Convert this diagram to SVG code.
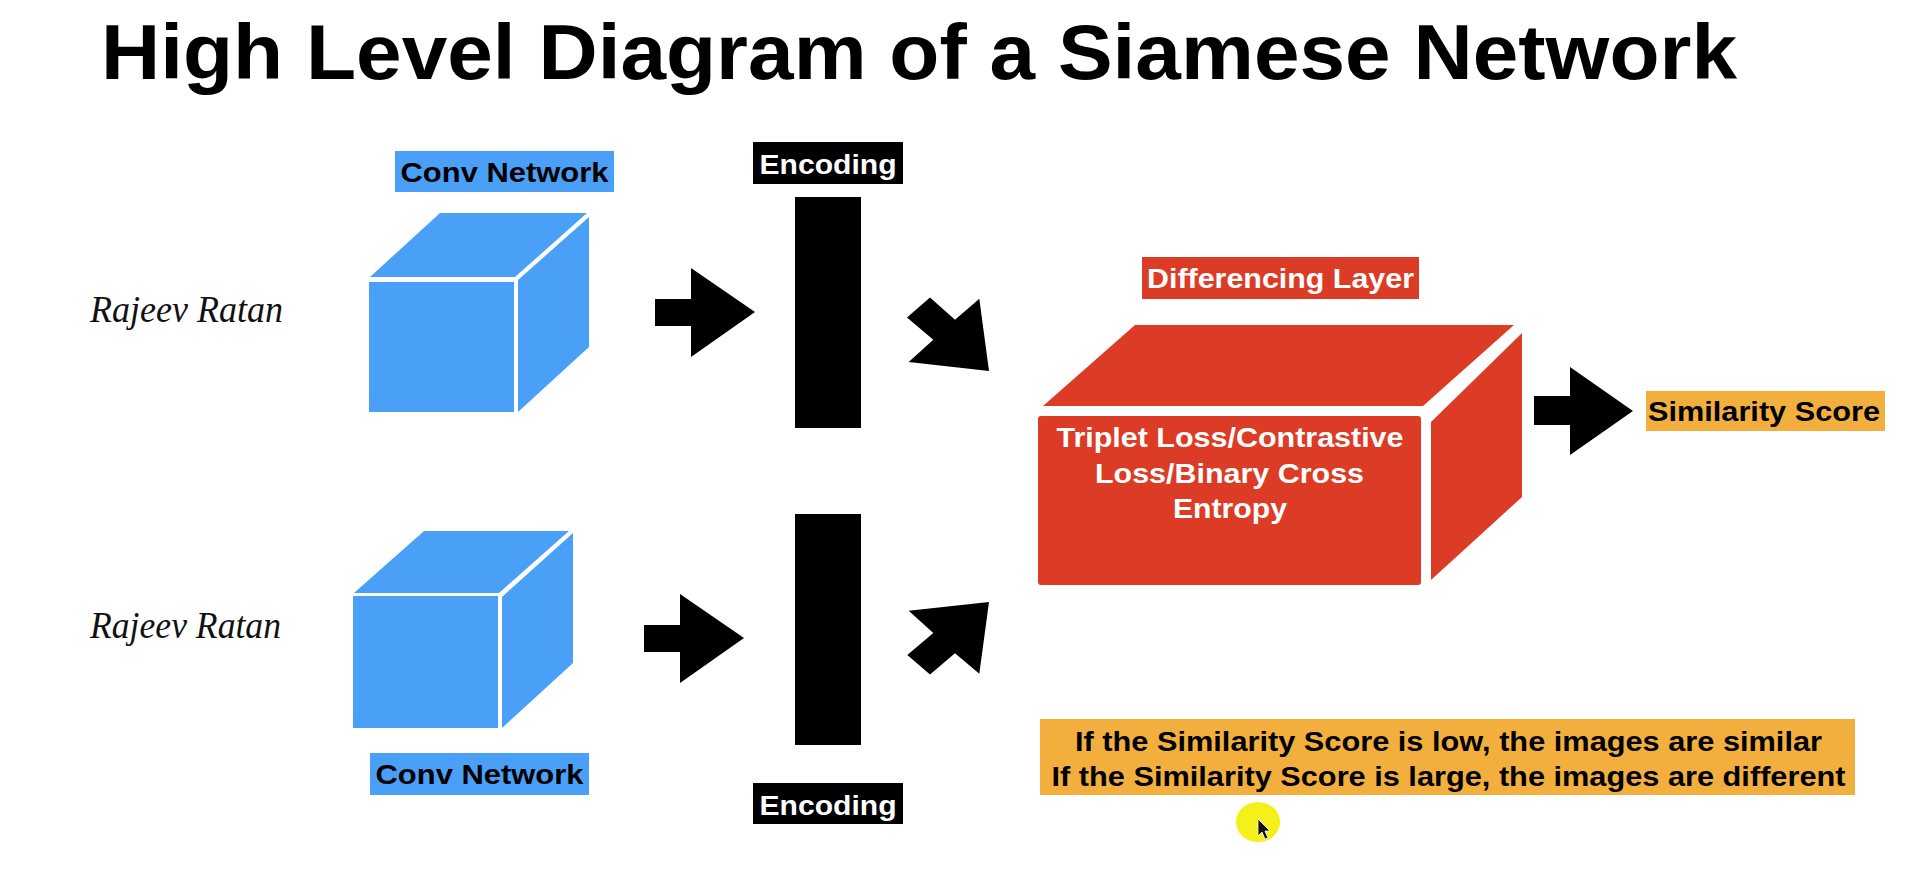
<svg xmlns="http://www.w3.org/2000/svg" width="1914" height="882" viewBox="0 0 1914 882">
<style>
.bg{fill:#ffffff}
.blue{fill:#4aa0f7}
.red{fill:#dc3c26}
.orange{fill:#f3af3d}
.black{fill:#000000}
.lbl{font-family:"Liberation Sans",Arial,sans-serif;font-weight:bold;text-anchor:middle}
.sig{font-family:"Liberation Serif","Times New Roman",serif;font-style:italic;fill:#111111}
.arrow{fill:#000000}
</style>
<rect class="bg" x="0" y="0" width="1914" height="882"/>
<g id="title">
<text x="101" y="79" font-family="Liberation Sans, Arial, sans-serif" font-weight="bold" font-size="77" textLength="1636" lengthAdjust="spacingAndGlyphs" fill="#000">High Level Diagram of a Siamese Network</text>
</g>
<g id="sig1"><text class="sig" x="90" y="322" font-size="38" textLength="193" lengthAdjust="spacingAndGlyphs">Rajeev Ratan</text></g>
<g id="sig2"><text class="sig" x="90" y="638" font-size="38" textLength="191" lengthAdjust="spacingAndGlyphs">Rajeev Ratan</text></g>
<g id="conv1">
<rect class="blue" x="395" y="151" width="219" height="41"/>
<text class="lbl" x="504.5" y="182" font-size="28" textLength="208" lengthAdjust="spacingAndGlyphs" fill="#000">Conv Network</text>
<rect class="blue" x="369" y="282" width="145" height="130"/>
<polygon class="blue" points="370,277 440,213 587,213 515,277"/>
<polygon class="blue" points="518,280 589,217 589,347 518,412"/>
</g>
<g id="conv2">
<rect class="blue" x="353" y="596" width="145" height="132"/>
<polygon class="blue" points="354,593 424,531 569,531 499,593"/>
<polygon class="blue" points="502,597 573,533 573,663 502,728"/>
<rect class="blue" x="370" y="753" width="219" height="42"/>
<text class="lbl" x="479.5" y="784" font-size="28" textLength="208" lengthAdjust="spacingAndGlyphs" fill="#000">Conv Network</text>
</g>
<g id="encoding1">
<rect class="black" x="753" y="142" width="150" height="42"/>
<text class="lbl" x="828" y="174" font-size="28" textLength="137" lengthAdjust="spacingAndGlyphs" fill="#fff">Encoding</text>
<rect class="black" x="795" y="197" width="66" height="231"/>
</g>
<g id="encoding2">
<rect class="black" x="795" y="514" width="66" height="231"/>
<rect class="black" x="753" y="783" width="150" height="41"/>
<text class="lbl" x="828" y="815" font-size="28" textLength="137" lengthAdjust="spacingAndGlyphs" fill="#fff">Encoding</text>
</g>
<g id="differencing">
<rect class="red" x="1142" y="257" width="277" height="42"/>
<text class="lbl" x="1280.5" y="288" font-size="27" textLength="267" lengthAdjust="spacingAndGlyphs" fill="#fff">Differencing Layer</text>
<polygon class="red" points="1043,406 1135,325 1514,325 1423,406"/>
<polygon class="red" points="1431,422 1522,333 1522,497 1431,580"/>
<rect class="red" x="1038" y="416" width="383" height="169" rx="3"/>
<text class="lbl" x="1230" y="447" font-size="27" textLength="347" lengthAdjust="spacingAndGlyphs" fill="#fff">Triplet Loss/Contrastive</text>
<text class="lbl" x="1229.5" y="483" font-size="27" textLength="269" lengthAdjust="spacingAndGlyphs" fill="#fff">Loss/Binary Cross</text>
<text class="lbl" x="1230" y="518" font-size="27" textLength="114" lengthAdjust="spacingAndGlyphs" fill="#fff">Entropy</text>
</g>
<g id="similarity">
<rect class="orange" x="1646" y="391" width="239" height="40"/>
<text class="lbl" x="1764" y="421" font-size="28" textLength="232" lengthAdjust="spacingAndGlyphs" fill="#000">Similarity Score</text>
</g>
<g id="note">
<rect class="orange" x="1040" y="719" width="815" height="76"/>
<text class="lbl" x="1448.5" y="751" font-size="27.5" textLength="747" lengthAdjust="spacingAndGlyphs" fill="#000">If the Similarity Score is low, the images are similar</text>
<text class="lbl" x="1448.5" y="786" font-size="27.5" textLength="794" lengthAdjust="spacingAndGlyphs" fill="#000">If the Similarity Score is large, the images are different</text>
</g>
<g id="cursor">
<ellipse cx="1258" cy="822" rx="22" ry="20" fill="#f6f01a"/>
<polygon points="1258,819 1258,836 1262,832 1265,839 1268,838 1265,831 1270,831" fill="#111" stroke="#fff" stroke-width="0.8"/>
</g>
<g id="connectors">
<polygon class="arrow" points="655,299 691,299 691,268 755,312 691,357 691,326 655,326"/>
<polygon class="arrow" points="644,625 680,625 680,594 744,638 680,683 680,652 644,652"/>
<polygon class="arrow" points="907,317.5 930,297.4 955,319.7 979.3,298.8 989,371 908.7,362 933.3,339.8"/>
<polygon class="arrow" points="908.7,610.8 989,601.9 979.3,673.8 955,653.2 930,674.6 907.3,655 933.3,633.1"/>
<polygon class="arrow" points="1534,396 1570,396 1570,367 1633,411 1570,455 1570,425 1534,425"/>
</g>
</svg>
